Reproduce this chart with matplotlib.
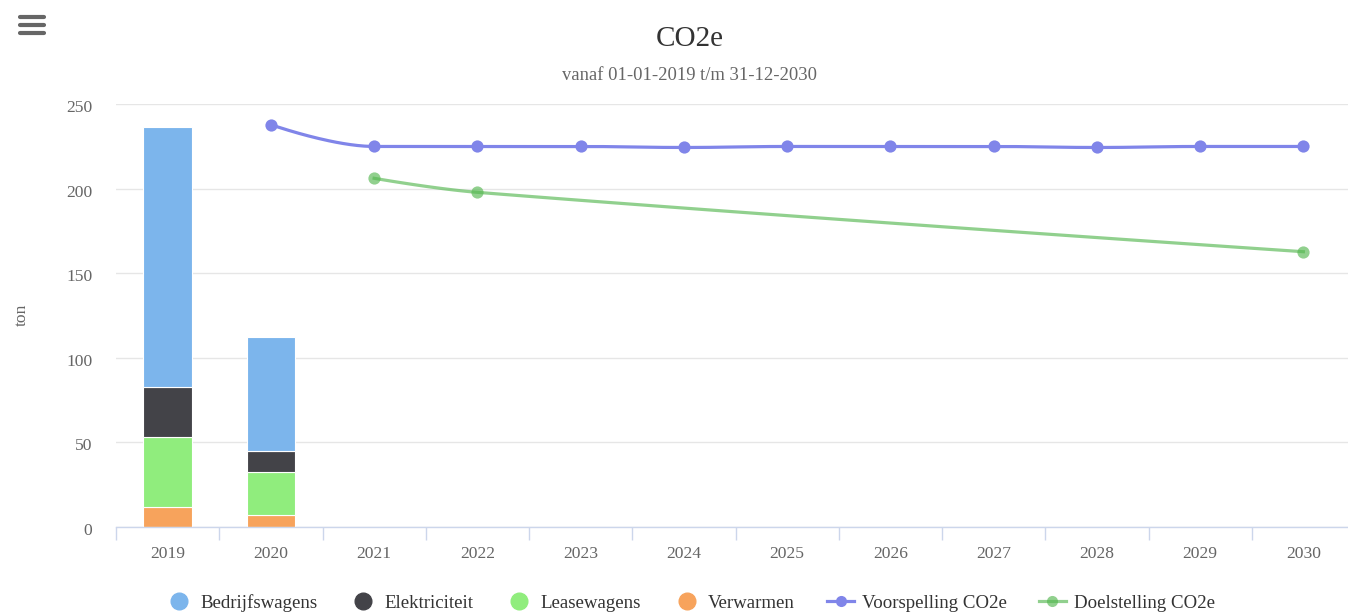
import numpy as np
import matplotlib
matplotlib.use("Agg")
import matplotlib.pyplot as plt
import matplotlib.transforms as mtransforms
from matplotlib.lines import Line2D

# data
years = ['2019', '2020', '2021', '2022', '2023', '2024', '2025', '2026',
         '2027', '2028', '2029', '2030']
bar_years = ['2019', '2020']
verwarmen = [11.6, 6.9]
leasewagens = [41.4, 25.4]
elektriciteit = [29.6, 12.4]
bedrijfswagens = [154.0, 67.8]

voorspelling_years = ['2020', '2021', '2022', '2023', '2024', '2025', '2026',
                      '2027', '2028', '2029', '2030']
voorspelling = [237.8, 224.9, 224.9, 224.9, 224.3, 224.9, 224.9, 224.9,
                224.3, 224.9, 224.9]
doel_years = ['2021', '2022', '2030']
doelstelling = [206.1, 197.8, 162.7]


def hc_spline(xs, ys, smoothing=1.5, steps=40):
    # Highcharts-style spline: cubic bezier between points
    n = len(xs)
    lc = [None] * n
    rc = [None] * n
    denom = smoothing + 1
    for i in range(1, n - 1):
        x, y = xs[i], ys[i]
        lx, ly = xs[i - 1], ys[i - 1]
        nx, ny = xs[i + 1], ys[i + 1]
        lcx = (smoothing * x + lx) / denom
        lcy = (smoothing * y + ly) / denom
        rcx = (smoothing * x + nx) / denom
        rcy = (smoothing * y + ny) / denom
        corr = ((rcy - lcy) * (rcx - x)) / (rcx - lcx) + y - rcy
        lcy += corr
        rcy += corr
        if lcy > ly and lcy > y:
            lcy = max(ly, y); rcy = 2 * y - lcy
        elif lcy < ly and lcy < y:
            lcy = min(ly, y); rcy = 2 * y - lcy
        if rcy > ny and rcy > y:
            rcy = max(ny, y); lcy = 2 * y - rcy
        elif rcy < ny and rcy < y:
            rcy = min(ny, y); lcy = 2 * y - rcy
        lc[i] = (lcx, lcy)
        rc[i] = (rcx, rcy)
    px, py = [xs[0]], [ys[0]]
    t = np.linspace(0, 1, steps)[1:]
    for i in range(1, n):
        p0 = np.array([xs[i - 1], ys[i - 1]])
        p3 = np.array([xs[i], ys[i]])
        p1 = np.array(rc[i - 1]) if rc[i - 1] is not None else p0
        p2 = np.array(lc[i]) if lc[i] is not None else p3
        for tt in t:
            p = ((1 - tt) ** 3) * p0 + 3 * ((1 - tt) ** 2) * tt * p1 \
                + 3 * (1 - tt) * tt ** 2 * p2 + tt ** 3 * p3
            px.append(p[0]); py.append(p[1])
    return px, py


plt.rcParams['font.family'] = ['Liberation Serif', 'DejaVu Serif']

W, H = 1348, 614
fig = plt.figure(figsize=(W / 100, H / 100), dpi=100)
ax = fig.add_axes([116 / W, (H - 527) / H, 1239 / W, 423 / H])

xi = {y: i for i, y in enumerate(years)}
bx = [xi[y] for y in bar_years]
bw = 0.47
bottom = np.zeros(len(bx))
for vals, col in [(verwarmen, '#f7a35c'), (leasewagens, '#90ed7d'),
                  (elektriciteit, '#434348'), (bedrijfswagens, '#7cb5ec')]:
    ax.bar(bx, vals, bw, bottom=bottom, color=col, edgecolor='white',
           linewidth=0.8, zorder=3)
    bottom += np.array(vals)

vx = [xi[y] for y in voorspelling_years]
sx, sy = hc_spline(vx, voorspelling)
ax.plot(sx, sy, color='#8085e9', lw=2.3, zorder=4, solid_capstyle='round')
ax.plot(vx, voorspelling, 'o', color='#8085e9', ms=8.8, mew=0, zorder=5)

gx = [xi[y] for y in doel_years]
sx, sy = hc_spline(gx, doelstelling)
ax.plot(sx, sy, color='#56b851', alpha=0.65, lw=2.3, zorder=4)
ax.plot(gx, doelstelling, 'o', color='#56b851', alpha=0.65, ms=8.8,
        mew=0, zorder=5)

ax.set_xlim(-0.5, len(years) - 0.5)
ax.set_ylim(0, 250)
ax.set_yticks([0, 50, 100, 150, 200, 250])
ax.set_xticks(range(len(years)))
ax.set_xticklabels(years)
ax.set_xticks(np.arange(-0.5, len(years), 1), minor=True)
ax.tick_params(axis='x', which='major', length=0, pad=14, labelsize=12.6,
               labelcolor='#666666')
ax.tick_params(axis='x', which='minor', length=9, width=1, color='#ccd6eb')
ax.tick_params(axis='y', length=0, pad=17, labelsize=12.6, labelcolor='#666666')
shift = mtransforms.ScaledTranslation(0, -4 / 100, fig.dpi_scale_trans)
for t in ax.get_yticklabels():
    t.set_va('center')
    t.set_transform(t.get_transform() + shift)
ax.grid(axis='y', color='#e6e6e6', lw=1, zorder=0)
ax.set_axisbelow(True)
for s in ['top', 'right', 'left']:
    ax.spines[s].set_visible(False)
ax.spines['bottom'].set_color('#ccd6eb')
ax.spines['bottom'].set_linewidth(1)
ax.spines['bottom'].set_zorder(6)

fig.text(22 / W, 1 - 315 / H, 'ton', rotation=90, ha='center', va='center',
         fontsize=12.6, color='#666666')
fig.text(690 / W, 1 - 46 / H, 'CO2e', ha='center', va='baseline',
         fontsize=21, color='#333333')
fig.text(690 / W, 1 - 80 / H, 'vanaf 01-01-2019 t/m 31-12-2030', ha='center',
         va='baseline', fontsize=13.4, color='#666666')

# menu icon
for yy in [17, 25.3, 33.3]:
    fig.add_artist(Line2D([20 / W, 44 / W], [1 - yy / H, 1 - yy / H],
                          transform=fig.transFigure, color='#666666', lw=3,
                          solid_capstyle='round'))

handles = [
    Line2D([], [], marker='o', ls='', color='#7cb5ec', ms=12),
    Line2D([], [], marker='o', ls='', color='#434348', ms=12),
    Line2D([], [], marker='o', ls='', color='#90ed7d', ms=12),
    Line2D([], [], marker='o', ls='', color='#f7a35c', ms=12),
    Line2D([], [], marker='o', ls='-', color='#8085e9', ms=8, mew=0, lw=2.3),
    Line2D([], [], marker='o', ls='-', color='#56b851', alpha=0.65, ms=8,
           mew=0, lw=2.3),
]
labels = ['Bedrijfswagens', 'Elektriciteit', 'Leasewagens', 'Verwarmen',
          'Voorspelling CO2e', 'Doelstelling CO2e']
leg = fig.legend(handles, labels, loc='center', ncol=6,
                 bbox_to_anchor=(690 / W, 1 - 603 / H), frameon=False,
                 fontsize=13.6, handlelength=1.45, handletextpad=0.4,
                 columnspacing=1.7, borderpad=0, labelcolor='#333333')

fig.savefig('out.png', dpi=100)
